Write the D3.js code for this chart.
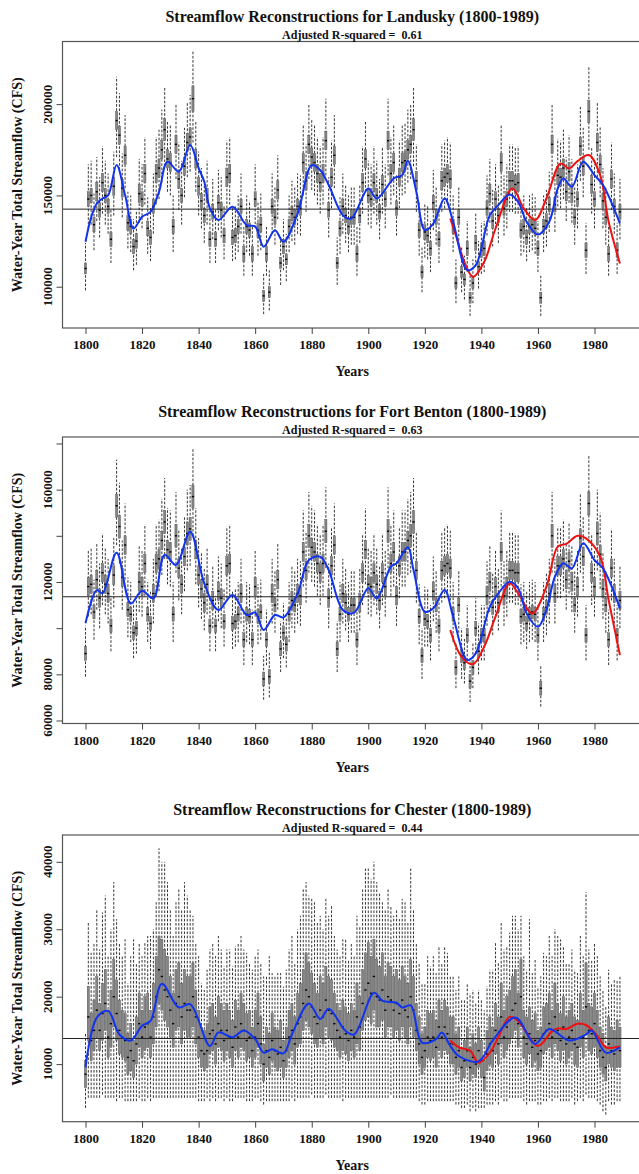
<!DOCTYPE html>
<html>
<head>
<meta charset="utf-8">
<script src="https://cdn.jsdelivr.net/npm/d3@7/dist/d3.min.js"></script>
<style>
  body { margin: 0; background: #fff; }
  text { font-family: "Liberation Serif", "Times New Roman", serif; font-weight: bold; fill: #111; }
</style>
</head>
<body>
<script>
// all flows in thousands of CFS, one value per water year 1800..1989
var years = d3.range(1800, 1990);
var xTicks = d3.range(1800, 1981, 20);

// ---- Landusky ----
var landuskyMed = [
110,148,150,134,152,142,157,150,144,126,
155,191,183,154,172,135,133,122,125,151,
148,162,132,127,144,162,165,175,186,170,
168,133,178,159,150,166,179,182,203,170,
155,147,139,150,126,141,126,146,142,128,
160,162,127,128,133,144,118,133,131,118,
148,131,134,95,118,97,144,138,153,113,
122,115,133,140,138,144,143,168,158,178,
171,168,162,157,162,180,142,160,172,113,
132,144,139,133,138,138,118,139,157,170,
150,148,157,150,141,156,148,180,162,168,
143,160,168,169,175,178,186,158,131,108,
130,128,121,146,138,126,158,160,162,159,
133,102,138,108,104,121,94,102,124,111,
120,121,143,151,136,148,139,168,143,148,
158,158,156,157,131,133,127,133,134,132,
121,94,133,136,145,178,145,161,160,165,
152,163,151,138,148,177,166,120,196,156,
148,179,167,147,138,118,159,144,120,141];
var landuskyBox = [
3,4,4,4,5,4,5,4,4,4, 5,5,5,5,5,4,4,4,4,5, 4,5,4,4,4,5,5,5,6,5, 5,4,5,5,4,5,5,5,7,5,
5,4,4,4,4,4,4,4,4,4, 5,5,4,4,4,4,4,4,4,4, 4,4,4,3,4,3,4,4,5,3, 4,3,4,4,4,4,4,5,5,5,
5,5,5,5,5,5,4,5,5,3, 4,4,4,4,4,4,4,4,5,5, 4,4,5,4,4,5,4,5,5,5, 4,5,5,5,5,5,6,5,4,3,
4,4,4,4,4,4,5,5,5,5, 4,3,4,3,3,4,3,3,4,3, 4,4,4,5,4,4,4,5,4,4, 5,5,5,5,4,4,4,4,4,4,
4,3,4,4,4,5,4,5,5,5, 5,5,5,4,4,5,5,4,6,5, 4,5,5,4,4,4,5,4,4,4];
var landuskyDn = [
12,16,16,14,16,15,17,16,15,13, 16,20,19,16,18,14,14,13,13,16, 16,17,14,13,15,17,17,18,20,18,
18,14,19,17,16,17,19,19,24,18, 16,15,15,16,13,15,13,15,15,13, 17,17,13,13,14,15,12,14,14,12,
16,14,14,10,12,10,15,15,16,12, 13,12,14,15,15,15,15,18,17,19, 18,18,17,17,17,19,15,17,18,12,
14,15,15,14,15,15,12,15,17,18, 16,16,17,16,15,16,16,19,17,18, 15,17,18,18,18,19,20,17,14,11,
14,13,13,15,15,13,17,17,17,17, 14,11,15,11,11,13,10,11,13,12, 13,13,15,16,14,16,15,18,15,16,
17,17,16,17,14,14,13,14,14,14, 13,10,14,14,15,19,15,17,17,17, 16,17,16,15,16,19,17,13,21,16,
16,19,18,15,15,12,17,15,13,15];
var landuskyUp = [
14,19,19,17,19,18,20,19,18,16, 19,24,23,19,22,17,17,15,16,19, 19,20,17,16,18,20,21,22,23,21,
21,17,22,20,19,21,22,23,26,21, 19,18,17,19,16,18,16,18,18,16, 20,20,16,16,17,18,15,17,16,15,
19,16,17,12,15,12,18,17,19,14, 15,14,17,18,17,18,18,21,20,22, 21,21,20,20,20,23,18,20,22,14,
17,18,17,17,17,17,15,17,20,21, 19,19,20,19,18,20,19,23,20,21, 18,20,21,21,22,22,23,20,16,14,
16,16,15,18,17,16,20,20,20,20, 17,13,17,14,13,15,12,13,16,14, 15,15,18,19,17,19,17,21,18,19,
20,20,20,20,16,17,16,17,17,17, 15,12,17,17,18,22,18,20,20,21, 19,20,19,17,19,22,21,15,25,20,
19,22,21,18,17,15,20,18,15,18];
var landuskyBlueYears = [1800,1802,1804,1806,1808,1811,1814,1817,1820,1823,1826,1829,1833,1837,1840,1842,1844,1847,1852,1857,1860,1863,1867,1870,1875,1880,1883,1886,1891,1894,1900,1903,1909,1912,1914,1917,1920,1923,1927,1930,1935,1938,1943,1946,1950,1953,1956,1960,1964,1967,1969,1972,1976,1980,1983,1989];
var landuskyBlue = [124.6,138,145.6,148.3,150,166.6,150.2,131.9,138.3,141,152,168.5,163,177.6,165,157.5,142.9,136.5,143.8,133.7,133,121.9,131,124.6,140,166.6,163.9,155.7,139.2,137.4,153.8,148.3,159.3,161.1,168.9,152,131,134.6,148.3,135.6,109.1,111.8,139.2,144.7,150.5,146.5,135.6,128.6,135.6,153.8,159.3,154.7,168.5,161.1,155.7,134.6];
var landuskyRedYears = [1929,1931,1934,1937,1941,1945,1951,1955,1959,1963,1968,1971,1974,1978,1982,1985,1989];
var landuskyRed = [137.4,128,113.6,105.4,113.6,131.9,153.8,142.9,136.5,148.3,167.5,164.8,168.8,172.1,161.1,135.6,112.7];

// ---- Fort Benton ----
var bentonMed = [
89,118,119,107,121,113,124,119,115,101,
123,153,144,122,136,108,106,98,100,120,
118,128,106,102,115,128,130,138,146,134,
133,106,140,126,119,131,141,143,157,134,
123,117,111,119,101,112,101,116,113,103,
127,128,102,103,106,115,95,106,105,95,
118,105,107,78,95,79,115,110,121,91,
98,93,106,112,110,115,114,133,125,140,
135,133,128,124,128,142,113,127,136,91,
106,115,111,106,110,110,95,111,124,134,
119,118,124,119,112,124,118,142,128,133,
114,127,133,133,138,140,146,125,105,88,
104,103,97,116,110,101,125,127,128,126,
106,83,110,88,85,97,77,83,100,90,
97,97,114,120,109,118,111,133,114,118,
125,125,124,124,105,106,102,106,107,106,
97,74,106,109,115,140,115,127,127,130,
121,129,120,110,118,139,131,97,154,124,
118,141,132,117,110,95,126,115,97,112];
var bentonBox = [
3,4,4,3,4,4,4,4,4,3, 4,5,5,4,4,3,3,3,3,4, 4,4,3,3,4,4,4,4,5,4, 4,3,5,4,4,4,5,5,5,4,
4,4,4,4,3,4,3,4,4,3, 4,4,3,3,3,4,3,3,3,3, 4,3,3,3,3,3,4,3,4,3, 3,3,3,4,3,4,4,4,4,5,
4,4,4,4,4,5,4,4,4,3, 3,4,4,3,3,3,3,4,4,4, 4,4,4,4,4,4,4,5,4,4, 4,4,4,4,4,5,5,4,3,3,
3,3,3,4,3,3,4,4,4,4, 3,3,3,3,3,3,3,3,3,3, 3,3,4,4,3,4,4,4,4,4, 4,4,4,4,3,3,3,3,3,3,
3,3,3,3,4,5,4,4,4,4, 4,4,4,3,4,4,4,3,5,4, 4,5,4,4,3,3,4,4,3,4];
var bentonDn = [
10,13,13,12,13,13,14,13,13,11, 14,17,16,14,15,12,12,11,11,13, 13,14,12,11,13,14,14,15,16,15,
15,12,16,14,13,15,16,16,17,15, 14,13,12,13,11,12,11,13,13,11, 14,14,11,11,12,13,11,12,12,11,
13,12,12,9,11,9,13,12,13,10, 11,10,12,12,12,13,13,15,14,16, 15,15,14,14,14,16,13,14,15,10,
12,13,12,12,12,12,11,12,14,15, 13,13,14,13,12,14,13,16,14,15, 13,14,15,15,15,16,16,14,12,10,
12,11,11,13,12,11,14,14,14,14, 12,9,12,10,9,11,9,9,11,10, 11,11,13,13,12,13,12,15,13,13,
14,14,14,14,12,12,11,12,12,12, 11,8,12,12,13,16,13,14,14,14, 13,14,13,12,13,15,15,11,17,14,
13,16,15,13,12,11,14,13,11,12];
var bentonUp = [
12,16,16,14,16,15,17,16,15,13, 16,20,19,16,18,14,14,13,13,16, 16,17,14,14,15,17,17,18,19,18,
18,14,19,17,16,17,19,19,21,18, 16,16,15,16,13,15,13,15,15,14, 17,17,14,14,14,15,13,14,14,13,
16,14,14,10,13,11,15,15,16,12, 13,12,14,15,15,15,15,18,17,19, 18,18,17,17,17,19,15,17,18,12,
14,15,15,14,15,15,13,15,17,18, 16,16,17,16,15,17,16,19,17,18, 15,17,18,18,18,19,19,17,14,12,
14,14,13,15,15,13,17,17,17,17, 14,11,15,12,11,13,10,11,13,12, 13,13,15,16,15,16,15,18,15,16,
17,17,17,17,14,14,14,14,14,14, 13,10,14,15,15,19,15,17,17,17, 16,17,16,15,16,19,17,13,21,17,
16,19,18,16,15,13,17,15,13,15];
var bentonBlueYears = [1800,1804,1806,1811,1816,1820,1824,1828,1832,1837,1842,1847,1852,1857,1860,1863,1867,1870,1875,1879,1883,1886,1891,1895,1900,1903,1908,1910,1914,1916,1920,1923,1927,1930,1935,1938,1943,1946,1950,1953,1956,1960,1963,1966,1969,1972,1976,1980,1983,1989];
var bentonBlue = [102.1,116.5,115.1,132.7,110.7,116.2,112.9,131.7,127.4,141.8,119.4,107.9,114.4,105.7,106.7,99.2,105.7,104.7,115,129.5,131,125.2,107.9,106.7,117.3,112.9,126.7,128.1,135,125.2,107.1,108.6,116.5,105,86.2,89.1,109.3,115.1,120.1,117.3,106.4,100.6,107.9,122.3,128.1,125.9,136.8,129.5,125.9,108.6];
var bentonRedYears = [1929,1933,1937,1941,1945,1950,1953,1958,1963,1967,1970,1974,1977,1982,1985,1989];
var bentonRed = [99.2,87.6,84.4,92,105,119.4,115.1,106.4,118,135.3,136.5,140,138.9,131,112.2,88.3];

// ---- Chester ----
var chesterMed = [
8.5,17,13.5,15,18,15,17.5,19,14,16,
20,17.5,15,14,13.5,11,12,10.5,13,16,
14,15.5,16,14,17,20,24,23,21,20,
18,16,19,20,17,19,18,18,20,17,
14,12,11.5,12,14.5,15,13,16,15,13.5,
15,14,12.5,15.5,14,16,15,13.5,14,12,
14,16,13,10,12,11,13.5,12,11.5,12.5,
10.5,12,14,15,13,16,17,19,21,20,
18.5,17,16,18,17,19.5,18,17.5,16,15,
14,15.5,14.5,13.5,15,14,17,15.5,19,21,
22,20.5,23,20,19.5,21,18,20,19.5,18,
19,17.5,19.5,18,17,20,18,15,13,11,
12,14,13.5,14,12.5,15.5,14,15.5,14.5,13,
13,11,12,9.5,10.5,12,9.5,11,10,12,
10.5,8,11.5,13,12,15,13,17,14,15.5,
16.5,18,19,16,20,14,13,14.5,12.5,13.5,
11.5,12,14.5,15,16,14,17,15,13.5,15.5,
13,14,15,13,12.5,16,14,18.5,15,14.5,
16,14,12,11,9.5,13,12,11.5,12.5,12];
var chesterBoxDn = [
2,3.5,3,3,4,3,4,4,3,3.5, 4.5,4,3.5,3,3,2.5,3,2.5,3,3.5, 3,3.5,3.5,3,4,4.5,5,5,4.5,4.5, 4,3.5,4,4.5,4,4,4,4,4.5,4,
3,2.5,2.5,2.5,3,3,3,3.5,3,3, 3,3,3,3.5,3,3.5,3,3,3,2.5, 3,3.5,3,2.5,2.5,2.5,3,2.5,2.5,3, 2.5,2.5,3,3,3,3.5,4,4,4.5,4.5,
4,4,3.5,4,4,4,4,4,3.5,3, 3,3.5,3,3,3,3,4,3.5,4,4.5, 5,4.5,5,4.5,4,4.5,4,4.5,4,4, 4,4,4,4,4,4.5,4,3,3,2.5,
2.5,3,3,3,3,3.5,3,3.5,3,3, 3,2.5,2.5,2,2.5,2.5,2,2.5,2,2.5, 2.5,2,2.5,3,2.5,3.5,3,4,3,3.5, 3.5,4,4,3.5,4.5,3,3,3,3,3,
2.5,2.5,3,3,3.5,3,4,3,3,3.5, 3,3,3,3,3,3.5,3,4,3,3, 3.5,3,2.5,2.5,2,3,2.5,2.5,3,2.5];
var chesterBoxUp = [
2,4.5,4,4.5,5,4,4.5,5,4,5, 5.5,5,4.5,4,4,3.5,4,3,4,4.5, 4,4.5,4.5,4,5,6,5,5.5,6,6, 5,4.5,5,5,5,5,5,5,5,4,
4,3.5,3.5,4,4,4,4,4,4,4.5, 4,4,4,4,4,4.5,4,4,4,3.5, 4,4.5,4,3,3.5,3.5,4,3.5,3.5,4, 3,3.5,4,4,4,4.5,5,5,5.5,5,
5,5,4.5,5,5,5,5,5,4.5,4, 4,4,4,4,4,4,5,4.5,5,5.5, 6,5.5,5.5,5.5,5,5.5,5,5,5,5, 5,5,5,5,5,5.5,5,4,4,3.5,
3.5,4,4,4,4,4,4,4,4,4, 4,3.5,3.5,3,3,3.5,3,3.5,3,3.5, 3,2.5,3.5,4,3.5,4,4,5,4,4.5, 4.5,5,5,4.5,5.5,4,4,4,4,4,
3.5,3.5,4,4,4.5,4,5,4,4,4.5, 4,4,4,4,4,4.5,4,6.5,4,4, 4.5,4,3.5,3.5,3,4,3.5,3.5,4,3.5];
var chesterDn = [
5,12,8.5,10,13,10,12,14,9,11, 15,13,10,9,9,6.5,7.5,6,8.5,11, 9.5,11,11,9.5,12,15,19,18,16,15, 13,11,14,15,12,14,13,13,15,12,
9.5,7.5,7,7,10,10,8.5,11,10,9, 10,9.5,8,10.5,9,11,10,9,9.5,7.5, 9,11,8.5,6,7.5,6.5,9,7.5,7,8, 6,7.5,9.5,10,8.5,11,12,14,16,15,
13,12,11,13,12,14,13,12.5,11,10, 9,11,9.5,8.5,10,9,12,10.5,14,16, 17,15.5,18,15,14.5,16,13,15,14,13, 14,12.5,14.5,13,12,15,13,10,8.5,7,
8,9.5,9,9.5,8,11,9.5,11,10,8.5, 8.5,7,8,6,7,8,6.5,7.5,7,8.5, 7,4.5,7.5,9,8,10.5,9,12,9.5,11, 11.5,13,14,11,15,9.5,9,10,8,9,
7.5,8,10,10.5,11,9.5,12,10,9,11, 8.5,9.5,10,9,8,11,9.5,13,10,9.5, 11,9.5,8,8,7,8.5,8,7.5,8,7.5];
var chesterUp = [
6,14,13,13,15,12,15,16,12,14, 17,14,13,12,15,11,14,18,12,12, 12,12.5,13,15,13,14,18,17,19,17, 15,13,15,16,16,18,17,15,12,11,
12,10,9.5,12,12.5,13,13,13,12,11, 12,13,12,12,14,13,12,13,11,12, 12,11,12,13,11,15,10,11,12,11, 11,12,13,14,12,14,15,17,16,15,
16,17,15,14,13,15,14,16,13,12, 12,13,14,12,13,12,15,15,17,18, 17,17,17,17,16,13,15,16,14,14, 14,14,15,16,14,19,15,13,12,11,
10,12,11,12,11,12,11,12,12,10, 10,10,11,10,9,10,11,10,9,9, 9,10,10,11,12,13,12,14,13,12, 13,14,13,14,12,12,11,17,11,12,
10,11,12,11,13,12,13,14,15,12, 12,11,12,11,11,13,12,17,12,11, 12,12,11,10,9,11,10,11,10,11];
var chesterBlueYears = [1800,1804,1808,1812,1816,1820,1823,1827,1833,1837,1844,1847,1852,1856,1860,1863,1866,1870,1873,1879,1883,1886,1892,1895,1902,1905,1910,1912,1915,1919,1924,1926,1929,1932,1939,1944,1952,1959,1964,1971,1977,1979,1984,1989];
var chesterBlue = [9.5,16.9,17.9,14.4,13.5,15.7,16.4,21.9,18.4,18.9,12.7,14.7,14,15,13.7,11.7,12.2,11.6,14.4,19,16.7,18.2,14.9,14.4,20.6,19.4,19.1,18.4,18.7,13.2,13.7,14.7,12.7,11.2,10.4,13.5,16.9,13,15.2,13.5,14.4,15,11.7,12.5];
var chesterRedYears = [1929,1932,1936,1939,1943,1946,1950,1953,1960,1965,1967,1970,1974,1977,1981,1984,1989];
var chesterRed = [13.5,12.5,12,10.2,11.7,14,17,16.4,12.7,14.9,15.3,15.2,16,15.8,14.2,12.5,12.6];

var panels = [
  {title: "Streamflow Reconstructions for Landusky (1800-1989)", r2: "0.61", top: 41.5, bottom: 328,
   domain: [77.4, 234.3], ticks: [100000, 150000, 200000], labels: [100000, 150000, 200000], mean: 142.5,
   med: landuskyMed, boxDn: landuskyBox, boxUp: landuskyBox, dn: landuskyDn, up: landuskyUp,
   blueX: landuskyBlueYears, blueY: landuskyBlue, redX: landuskyRedYears, redY: landuskyRed},
  {title: "Streamflow Reconstructions for Fort Benton (1800-1989)", r2: "0.63", top: 437, bottom: 723.5,
   domain: [58.7, 182.8], ticks: [60000, 80000, 100000, 120000, 140000, 160000, 180000], labels: [60000, 80000, 120000, 160000], mean: 113.6,
   med: bentonMed, boxDn: bentonBox, boxUp: bentonBox, dn: bentonDn, up: bentonUp,
   blueX: bentonBlueYears, blueY: bentonBlue, redX: bentonRedYears, redY: bentonRed},
  {title: "Streamflow Reconstructions for Chester (1800-1989)", r2: "0.44", top: 835, bottom: 1121.7,
   domain: [1.46, 43.98], ticks: [10000, 20000, 30000, 40000], labels: [10000, 20000, 30000, 40000], mean: 13.8,
   med: chesterMed, boxDn: chesterBoxDn, boxUp: chesterBoxUp, dn: chesterDn, up: chesterUp,
   blueX: chesterBlueYears, blueY: chesterBlue, redX: chesterRedYears, redY: chesterRed}
];

var left = 62.5, right = 642;
var x = d3.scaleLinear().domain([1800, 1980]).range([85.5, 594.5]);

var svg = d3.select("body").append("svg").attr("width", 639).attr("height", 1174);

panels.forEach(function(p){
  var y = d3.scaleLinear().domain([p.domain[0]*1000, p.domain[1]*1000]).range([p.bottom, p.top]);
  var g = svg.append("g");

  var stats = years.map(function(yr, i){
    var m = p.med[i];
    return {yr: yr, med: m, q1: m - p.boxDn[i], q3: m + p.boxUp[i], lo: m - p.dn[i], hi: m + p.up[i]};
  });

  // whiskers (dashed)
  g.selectAll(".wh").data(stats).enter().append("line")
    .attr("x1", function(d){ return x(d.yr); }).attr("x2", function(d){ return x(d.yr); })
    .attr("y1", function(d){ return y(d.lo*1000); }).attr("y2", function(d){ return y(d.hi*1000); })
    .attr("stroke", "#111").attr("stroke-width", 0.85).attr("stroke-dasharray", "2.6,1.6");

  // boxes
  g.selectAll(".bx").data(stats).enter().append("rect")
    .attr("x", function(d){ return x(d.yr) - 1.1; }).attr("width", 2.2)
    .attr("y", function(d){ return y(d.q3*1000); })
    .attr("height", function(d){ return y(d.q1*1000) - y(d.q3*1000); })
    .attr("fill", "#858585").attr("stroke", "#4a4a4a").attr("stroke-width", 0.4);

  // medians
  g.selectAll(".md").data(stats).enter().append("rect")
    .attr("x", function(d){ return x(d.yr) - 1.1; }).attr("width", 2.2)
    .attr("y", function(d){ return y(d.med*1000) - 0.7; }).attr("height", 1.4)
    .attr("fill", "#000");

  // long-term mean
  g.append("line").attr("x1", left).attr("x2", right)
    .attr("y1", y(p.mean*1000)).attr("y2", y(p.mean*1000))
    .attr("stroke", "#222").attr("stroke-width", 1);

  var line = d3.line().curve(d3.curveCatmullRom.alpha(0.5))
    .x(function(d){ return x(d[0]); }).y(function(d){ return y(d[1]*1000); });

  g.append("path").datum(p.redX.map(function(v, i){ return [v, p.redY[i]]; }))
    .attr("d", line).attr("fill", "none").attr("stroke", "#ee1111").attr("stroke-width", 2);
  g.append("path").datum(p.blueX.map(function(v, i){ return [v, p.blueY[i]]; }))
    .attr("d", line).attr("fill", "none").attr("stroke", "#1133ee").attr("stroke-width", 2);

  // frame
  g.append("rect").attr("x", left).attr("y", p.top)
    .attr("width", right - left).attr("height", p.bottom - p.top)
    .attr("fill", "none").attr("stroke", "#555").attr("stroke-width", 1.2);

  // axes
  var ax = g.append("g").attr("transform", "translate(0," + p.bottom + ")")
    .call(d3.axisBottom(x).tickValues(xTicks).tickSize(6).tickPadding(6).tickFormat(d3.format("d")));
  ax.select(".domain").remove();
  ax.selectAll("line").attr("stroke", "#444");
  ax.selectAll("text").attr("font-size", 13).attr("font-family", null).attr("fill", "#111");

  var ay = g.append("g").attr("transform", "translate(" + left + ",0)")
    .call(d3.axisLeft(y).tickValues(p.ticks).tickSize(6).tickFormat(""));
  ay.select(".domain").remove();
  ay.selectAll("line").attr("stroke", "#444");

  g.selectAll(".yl").data(p.labels).enter().append("text")
    .attr("transform", function(d){ return "translate(52," + y(d) + ") rotate(-90)"; })
    .attr("text-anchor", "middle").attr("font-size", 13)
    .text(function(d){ return d; });

  // titles
  g.append("text").attr("x", (left + right) / 2).attr("y", p.top - 20)
    .attr("text-anchor", "middle").attr("font-size", 16).text(p.title);
  g.append("text").attr("x", (left + right) / 2).attr("y", p.top - 3)
    .attr("text-anchor", "middle").attr("font-size", 12).style("white-space", "pre")
    .text("Adjusted R-squared =  " + p.r2);
  g.append("text").attr("x", (left + right) / 2).attr("y", p.bottom + 48)
    .attr("text-anchor", "middle").attr("font-size", 14).text("Years");
  g.append("text")
    .attr("transform", "translate(22," + ((p.top + p.bottom) / 2) + ") rotate(-90)")
    .attr("text-anchor", "middle").attr("font-size", 14)
    .text("Water-Year Total Streamflow (CFS)");
});
</script>
</body>
</html>
